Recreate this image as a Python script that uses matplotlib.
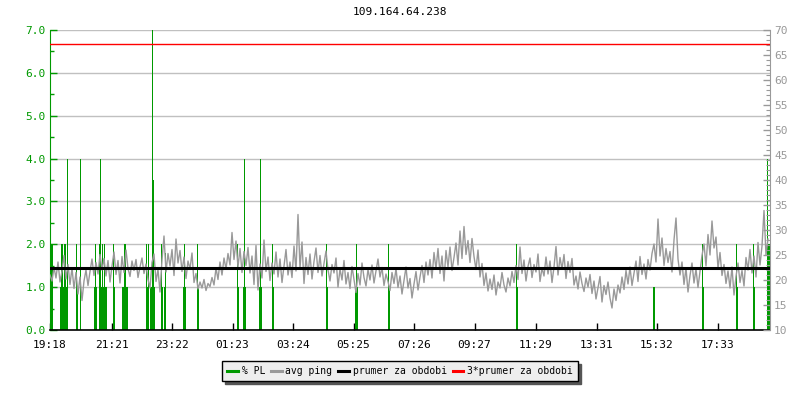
import numpy as np
import matplotlib
matplotlib.use("Agg")
import matplotlib.pyplot as plt
from matplotlib.lines import Line2D

title = "109.164.64.238"

# x axis labels (time of day), first label = start of period
tick_labels = ["19:18", "21:21", "23:22", "01:23", "03:24", "05:25",
               "07:26", "09:27", "11:29", "13:31", "15:32", "17:33"]

# avg ping [ms], one sample every 4 minutes
ping = [
    21.0, 19.8, 22.5, 20.4, 23.6, 19.6, 21.8, 24.9, 20.2, 23.1,
    19.1, 22.4, 18.3, 21.5, 17.2, 20.6, 15.9, 19.8, 22.0, 18.9,
    21.7, 24.2, 20.9, 23.5, 21.2, 25.1, 22.0, 24.3, 20.8, 23.9,
    19.6, 22.8, 25.6, 21.1, 23.9, 19.4, 24.7, 21.5, 26.0, 22.3,
    20.7, 23.8, 21.9, 24.1, 20.5, 22.6, 24.4, 21.3, 23.2, 20.1,
    18.4, 23.5, 25.2, 19.7, 22.1, 17.6, 24.0, 28.8, 21.6, 25.3,
    22.8, 26.1, 20.9, 28.2, 23.4, 25.9, 21.7, 24.6, 20.3, 23.8,
    22.2, 25.4, 19.5, 21.3, 18.2, 19.6, 18.4, 20.1, 17.9, 19.3,
    18.7, 20.5, 19.0, 22.4, 20.1, 23.6, 21.0, 24.4, 22.2, 25.3,
    23.0, 29.5, 24.1, 27.8, 22.6, 26.3, 21.5, 25.7, 22.9, 26.5,
    21.4, 24.8, 19.1, 26.9, 18.0, 23.2, 20.4, 28.0, 21.7, 24.6,
    19.9, 23.4, 21.2, 25.6, 20.6, 24.2, 19.5, 22.8, 26.1, 21.0,
    23.6, 20.5, 26.8, 21.8, 33.1, 22.4, 27.6, 19.3, 24.5, 21.1,
    25.2, 20.2, 23.7, 26.4, 21.5, 24.9, 20.8, 23.3, 25.8, 22.0,
    19.8, 23.1, 21.4, 24.4, 18.6, 22.2, 20.0, 23.9, 19.2, 21.5,
    18.3, 22.7, 20.1, 17.5, 21.3, 19.0, 23.4, 20.5, 18.8, 22.1,
    20.0, 23.0, 19.4, 21.8, 24.2, 20.6, 22.5, 18.9, 21.2, 19.7,
    17.9, 21.5, 19.3, 22.3, 18.5, 20.8, 17.2, 19.9, 22.6, 18.4,
    20.3, 16.4, 19.2, 21.7, 18.0, 20.6, 22.9, 19.5, 23.6, 21.0,
    24.1, 20.4, 25.5, 22.2, 26.3, 21.3, 24.8, 19.8, 25.9, 22.6,
    26.6, 21.9, 24.5, 27.4, 23.0, 29.8, 24.3, 30.7, 25.1, 27.9,
    23.5, 28.3, 24.7, 22.1, 26.0, 20.6, 23.3, 18.9, 21.4, 17.8,
    20.2, 18.1, 21.0, 17.0, 19.6, 18.4, 21.5, 19.0, 17.6, 20.4,
    18.8, 21.7, 19.5, 22.9, 20.1, 26.6, 21.3, 24.0, 19.8, 22.7,
    24.4, 20.5, 23.1, 21.6, 25.2, 19.7, 22.4, 20.8, 24.6, 21.2,
    23.8, 19.5, 22.6, 26.7, 21.0, 24.5, 22.2, 25.1, 20.3, 23.7,
    21.5, 24.3, 19.0, 20.8, 18.2, 21.6, 19.3, 17.7, 20.4, 18.6,
    21.1, 17.3, 19.8, 16.2, 18.5, 20.7, 15.6, 18.9, 17.1, 19.6,
    16.4, 14.4, 18.2, 15.9, 19.0, 17.4, 20.6, 18.1, 21.9, 19.2,
    22.6, 18.9, 21.3, 23.8, 19.7, 24.7, 21.1, 23.2, 20.2, 24.1,
    22.0, 25.3, 27.2, 23.6, 32.2, 24.8, 28.4, 22.9, 26.3, 23.5,
    25.7, 21.6, 28.0, 32.4, 24.2, 21.0, 23.6, 19.1, 22.4, 17.6,
    20.9, 23.4, 19.4, 22.2, 18.5, 21.7, 24.9, 27.2, 22.8, 29.1,
    25.0, 31.8, 26.4, 28.6, 22.3, 25.5, 20.9, 23.1, 19.3, 21.8,
    18.4, 22.6, 17.0, 20.7, 23.4, 19.5, 21.9, 18.8, 24.5, 22.0,
    26.1, 21.4, 24.8, 20.6, 27.5, 23.0, 26.8, 33.9, 25.0, 28.2,
]
ping_step = 4  # minutes

# packet loss [%] - only non zero samples (minute from start, value)
pl_minute = [2, 4, 20, 22, 24, 26, 28, 30, 32, 34, 52, 54, 60,
             88, 90, 92, 98, 100, 102, 104, 106, 108, 110, 112, 126, 128,
             144, 146, 148, 150, 152, 154, 192, 194, 196,
             200, 202, 204, 206, 208, 222, 224, 228, 230,
             266, 268, 270, 294, 296, 374, 376, 386, 388, 390,
             418, 420, 422, 444, 446, 552, 554, 610, 612, 614,
             676, 678, 932, 934, 1206, 1208, 1304, 1306,
             1372, 1374, 1406, 1408, 1434, 1436, 1438]
pl_value = [2, 2, 1, 2, 2, 1, 2, 2, 1, 4, 2, 1, 4,
            1, 2, 1, 2, 4, 1, 2, 1, 2, 1, 1, 2, 1,
            1, 1, 2, 2, 1, 1, 2, 1, 2,
            1, 1, 7, 3.5, 1, 2, 1, 1, 1.8,
            1, 2, 1, 2, 1, 2, 1, 1, 4, 1,
            1, 4, 1, 2, 1, 2, 1, 1, 2, 1,
            2, 1, 2, 1, 1, 1, 2, 1,
            2, 1, 2, 1, 4, 2, 2]

ping_avg = 22.4  # prumer za obdobi [ms]

green = "#009900"
grey = "#999999"


def to_minutes(label, start):
    h, m = label.split(":")
    t = int(h) * 60 + int(m)
    if t < start:
        t += 24 * 60
    return t


start = to_minutes(tick_labels[0], 0)
tick_pos = [to_minutes(t, start) - start for t in tick_labels]
period = 24 * 60

plt.rcParams['font.family'] = ['DejaVu Sans Mono']
fig = plt.figure(figsize=(8, 4), dpi=100)
ax = fig.add_axes([0.0625, 0.175, 0.9, 0.75])
ax2 = ax.twinx()

# left axis: packet loss
ax.bar(pl_minute, pl_value, width=2, align='edge', color=green, linewidth=0,
       antialiased=False, zorder=2)
ax.set_xlim(0, period)
ax.set_ylim(0, 7)
ax.set_yticks(np.arange(0, 7.01, 1))
ax.set_yticks(np.arange(0, 7.01, 0.5), minor=True)
ax.set_yticklabels(["%.1f" % v for v in np.arange(0, 7.01, 1)])
ax.grid(axis='y', color='#c0c0c0', linewidth=1, zorder=0)
ax.set_axisbelow(True)
ax.set_xticks(tick_pos)
ax.set_xticklabels(tick_labels)
ax.tick_params(axis='y', which='both', direction='in', colors=green, labelsize=8, pad=3)
ax.tick_params(axis='y', which='major', length=5, width=1)
ax.tick_params(axis='y', which='minor', length=3, width=1)
ax.tick_params(axis='x', direction='in', length=5, width=1, labelsize=8, pad=7)
ax.spines['left'].set_color(green)
ax.spines['top'].set_visible(False)
ax.spines['right'].set_visible(False)
ax.spines['bottom'].set_linewidth(1.2)

# right axis: ping
t = np.arange(len(ping)) * ping_step
ax2.plot(t, ping, color=grey, linewidth=1.0, zorder=3)
ax2.axhline(ping_avg, color='black', linewidth=2.2, zorder=4)
ax2.axhline(3 * ping_avg, color='red', linewidth=1, zorder=4)
ax2.set_ylim(10, 70)
ax2.set_yticks(np.arange(10, 71, 5))
ax2.set_yticks(np.arange(10, 71, 1), minor=True)
ax2.tick_params(axis='y', which='both', direction='in', colors=grey, labelsize=8, pad=3)
ax2.tick_params(axis='y', which='major', length=5, width=1)
ax2.tick_params(axis='y', which='minor', length=3, width=0.8)
ax2.spines['right'].set_color(grey)
ax2.spines['top'].set_visible(False)
ax2.spines['left'].set_visible(False)
ax2.spines['bottom'].set_visible(False)
ax2.set_xlim(0, period)

fig.text(0.5, 1 - 12 / 400, title, ha='center', va='center', fontsize=8)

handles = [Line2D([], [], color=green, linewidth=2.2),
           Line2D([], [], color=grey, linewidth=2.2),
           Line2D([], [], color='black', linewidth=2.2),
           Line2D([], [], color='red', linewidth=2.2)]
labels = ["% PL", "avg ping", "prumer za obdobi", "3*prumer za obdobi"]
leg = fig.legend(handles, labels, loc='center', bbox_to_anchor=(0.5, 1 - 371 / 400),
                 ncol=4, fontsize=7, frameon=True, fancybox=False,
                 edgecolor='black', facecolor='#eeeeee', framealpha=1,
                 shadow={'color': '#555555', 'alpha': 1},
                 handlelength=1.1, handletextpad=0.4, columnspacing=0.6,
                 borderpad=0.5, borderaxespad=0)
leg.get_frame().set_linewidth(1)

fig.savefig("out.png", dpi=100)
